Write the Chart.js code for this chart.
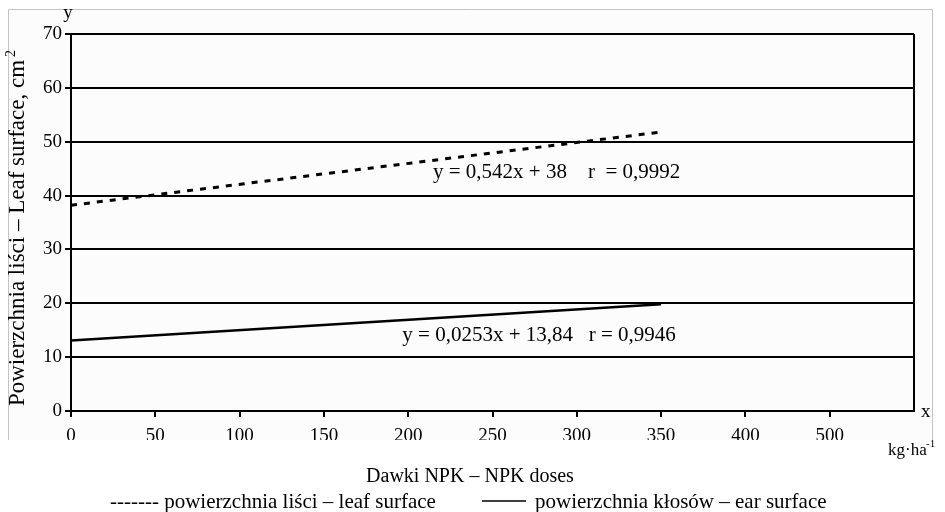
<!DOCTYPE html>
<html><head><meta charset="utf-8">
<script src="https://cdn.jsdelivr.net/npm/chart.js@4.4.1/dist/chart.umd.min.js"></script>
<style>html,body{margin:0;padding:0;background:#fff;}canvas{display:block;}</style>
</head><body>
<canvas id="c" width="945" height="512"></canvas>
<script>
// ---- data ----
const xTickLabels = ["0","50","100","150","200","250","300","350","400","500",""];
const doses = [0, 350];
const leafSurface = [38.2, 51.8];
const earSurface = [13.1, 19.8];
const yTicks = [0,10,20,30,40,50,60,70];
const leafEquation = "y = 0,542x + 38    r  = 0,9992";
const earEquation = "y = 0,0253x + 13,84   r = 0,9946";
const yTitle = "Powierzchnia liści – Leaf surface, cm";
const yTitleSup = "2";
const xTitle = "Dawki NPK – NPK doses";
const legendLeaf = "------- powierzchnia liści – leaf surface";
const legendEar = "powierzchnia kłosów – ear surface";

const SERIF = "'Liberation Serif', 'Times New Roman', serif";
const f = (s) => s + "px 'Liberation Serif', 'Times New Roman', serif";

const deco = {
  id: 'deco',
  beforeDraw(chart) {
    const ctx = chart.ctx;
    ctx.save();
    ctx.fillStyle = '#ffffff';
    ctx.fillRect(0, 0, chart.width, chart.height);
    ctx.fillStyle = '#fcfcfc';
    ctx.fillRect(8, 9, 925, 431);
    ctx.restore();
  },
  afterDraw(chart) {
    const ctx = chart.ctx;
    const xs = chart.scales.x, ys = chart.scales.y, ca = chart.chartArea;
    ctx.save();
    // crop edge of original picture
    ctx.fillStyle = '#ffffff';
    ctx.fillRect(0, 440, chart.width, chart.height - 440);
    ctx.strokeStyle = '#c4c4c4';
    ctx.lineWidth = 1;
    ctx.beginPath();
    ctx.moveTo(8.5, 440); ctx.lineTo(8.5, 9.5); ctx.lineTo(932.5, 9.5); ctx.lineTo(932.5, 440);
    ctx.stroke();

    ctx.fillStyle = '#000';
    ctx.textBaseline = 'alphabetic';
    // y axis title (rotated)
    ctx.save();
    ctx.translate(24, 228);
    ctx.rotate(-Math.PI / 2);
    ctx.font = f(23);
    const wMain = ctx.measureText(yTitle).width;
    ctx.font = f(14);
    const wSup = ctx.measureText(yTitleSup).width;
    const start = -(wMain + wSup + 3) / 2;
    ctx.font = f(23);
    ctx.textAlign = 'left';
    ctx.fillText(yTitle, start, 0);
    ctx.font = f(14);
    ctx.fillText(yTitleSup, start + wMain + 3, -9);
    ctx.restore();
    // axis letters
    ctx.font = f(19);
    ctx.textAlign = 'center';
    ctx.fillText('y', ca.left - 3, ca.top - 16);
    ctx.textAlign = 'left';
    ctx.fillText('x', ca.right + 7, ca.bottom + 6);
    // unit
    ctx.font = f(17);
    ctx.fillText('kg·ha', 888, 455);
    ctx.font = f(11);
    ctx.fillText('-1', 926, 447);
    // equations
    ctx.font = f(21);
    ctx.fillText(leafEquation, xs.getPixelForValue(214.7), ys.getPixelForValue(43.3));
    ctx.fillText(earEquation, xs.getPixelForValue(196.5), ys.getPixelForValue(13.0));
    // x title
    ctx.font = f(20);
    ctx.textAlign = 'center';
    ctx.fillText(xTitle, 470, 482);
    // legend
    ctx.font = f(21);
    ctx.textAlign = 'left';
    ctx.fillText(legendLeaf, 110, 508);
    ctx.fillText(legendEar, 535, 508);
    ctx.strokeStyle = '#000';
    ctx.lineWidth = 1.5;
    ctx.beginPath();
    ctx.moveTo(482, 501); ctx.lineTo(526, 501);
    ctx.stroke();
    ctx.restore();
  }
};

new Chart(document.getElementById('c').getContext('2d'), {
  type: 'line',
  data: {
    datasets: [
      { label: 'powierzchnia liści – leaf surface',
        data: doses.map((x, i) => ({ x: x, y: leafSurface[i] })),
        borderColor: '#000', borderWidth: 3, borderDash: [6, 7], pointRadius: 0, fill: false, tension: 0 },
      { label: 'powierzchnia kłosów – ear surface',
        data: doses.map((x, i) => ({ x: x, y: earSurface[i] })),
        borderColor: '#000', borderWidth: 2.5, pointRadius: 0, fill: false, tension: 0 }
    ]
  },
  options: {
    responsive: false, animation: false, devicePixelRatio: 1,
    layout: { padding: { left: 0, right: 31, top: 34, bottom: 0 } },
    plugins: { legend: { display: false }, tooltip: { enabled: false }, title: { display: false } },
    scales: {
      x: {
        type: 'linear', min: 0, max: 500,
        afterBuildTicks: (s) => { s.ticks = xTickLabels.map((_, i) => ({ value: i * 50 })); },
        afterFit: (s) => { s.height = 101; },
        ticks: { callback: (v, i) => xTickLabels[i], color: '#000', font: { family: SERIF, size: 19 }, padding: 8, maxRotation: 0, autoSkip: false },
        grid: {
          color: (c) => (c.tick && c.tick.value === 500) ? '#000' : 'rgba(0,0,0,0)',
          lineWidth: 2, tickLength: 6, tickWidth: 2,
          tickColor: (c) => (c.tick && c.tick.value === 500) ? 'rgba(0,0,0,0)' : '#000'
        },
        border: { color: '#000', width: 2 }
      },
      y: {
        min: 0, max: 70,
        afterBuildTicks: (s) => { s.ticks = yTicks.map((v) => ({ value: v })); },
        afterFit: (s) => { s.width = 71; },
        ticks: { color: '#000', font: { family: SERIF, size: 19 }, padding: 3 },
        grid: { color: '#000', lineWidth: 2, tickLength: 6, tickWidth: 2, tickColor: '#000' },
        border: { color: '#000', width: 2 },
        title: { display: false }
      }
    }
  },
  plugins: [deco]
});
</script>
</body></html>
